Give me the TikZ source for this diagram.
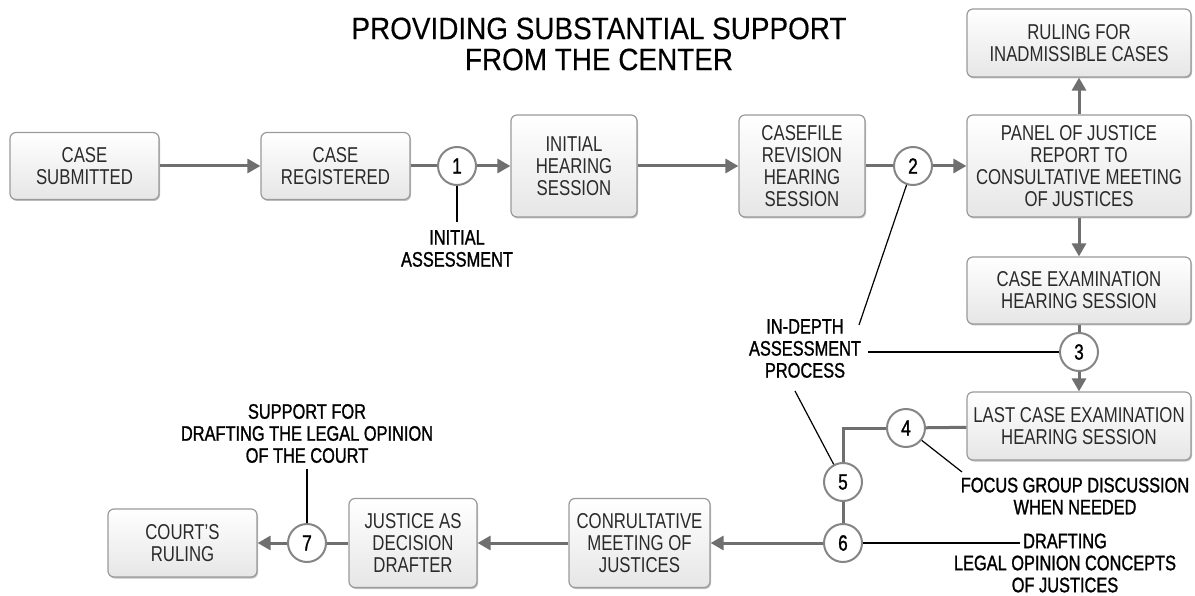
\documentclass[tikz,border=0pt]{standalone}
\usepackage{fontspec}
\setmainfont{Liberation Sans}[FakeStretch=0.78]
\newfontfamily\titlefont{Liberation Sans}[FakeStretch=0.9,FakeBold=0.3]
\newfontfamily\notefont{Liberation Sans}[FakeStretch=0.78,FakeBold=1.2]
\usetikzlibrary{arrows.meta,shadows}

\definecolor{boxline}{HTML}{9A9A9A}
\definecolor{boxtext}{HTML}{2A2A2A}
\definecolor{boxfill}{HTML}{E6E6E6}
\definecolor{flowgray}{HTML}{6F6F6F}
\definecolor{ringline}{HTML}{858585}

\begin{document}
\begin{tikzpicture}[x=1pt,y=-1pt,
  stepbox/.style={draw=boxline, line width=1.2pt, rounded corners=6pt,
    top color=white, bottom color=boxfill, text=boxtext, align=center,
    font=\fontsize{21.5}{22}\selectfont, inner sep=0pt,
    drop shadow={shadow xshift=1pt, shadow yshift=-1.5pt, opacity=0.25, fill=black}},
  ring/.style={circle, draw=ringline, line width=2pt, fill=white,
    minimum size=38pt, inner sep=0pt, text=black,
    font=\notefont\fontsize{22}{22}\selectfont},
  note/.style={align=center, inner sep=0pt, text=black,
    font=\notefont\fontsize{21}{22}\selectfont},
  flow/.style={draw=flowgray, line width=3pt},
  flowarrow/.style={flow, -{Triangle[length=13pt,width=14pt]}},
  callout/.style={draw=black, line width=1.2pt}]

\useasboundingbox (0,0) rectangle (1195,596);

% title
\node[align=center, inner sep=0pt, font=\titlefont\fontsize{31}{31}\selectfont]
  (title) at (599,44) {PROVIDING SUBSTANTIAL SUPPORT\\FROM THE CENTER};

% process boxes
\node[stepbox, minimum width=149pt, minimum height=67pt] (sub) at (84.5,166) {CASE\\SUBMITTED};
\node[stepbox, minimum width=149pt, minimum height=67pt] (reg) at (335.5,166) {CASE\\REGISTERED};
\node[stepbox, minimum width=126pt, minimum height=102pt] (ih) at (574,166) {INITIAL\\HEARING\\SESSION};
\node[stepbox, minimum width=126pt, minimum height=102pt] (cf) at (802,166) {CASEFILE\\REVISION\\HEARING\\SESSION};
\node[stepbox, minimum width=224pt, minimum height=102pt] (panel) at (1079,166) {PANEL OF JUSTICE\\REPORT TO\\CONSULTATIVE MEETING\\OF JUSTICES};
\node[stepbox, minimum width=224pt, minimum height=68pt] (rul) at (1079,43) {RULING FOR\\INADMISSIBLE CASES};
\node[stepbox, minimum width=224pt, minimum height=67pt] (ce) at (1079,290.5) {CASE EXAMINATION\\HEARING SESSION};
\node[stepbox, minimum width=224pt, minimum height=68pt] (lce) at (1079,426) {LAST CASE EXAMINATION\\HEARING SESSION};
\node[stepbox, minimum width=141pt, minimum height=89pt] (cmj) at (639.5,543) {CONRULTATIVE\\MEETING OF\\JUSTICES};
\node[stepbox, minimum width=128pt, minimum height=89pt] (jad) at (413,543) {JUSTICE AS\\DECISION\\DRAFTER};
\node[stepbox, minimum width=149pt, minimum height=68pt] (cr) at (182.5,543) {COURT’S\\RULING};

% numbered stages
\node[ring] (c1) at (457,166) {1};
\node[ring] (c2) at (913,166) {2};
\node[ring] (c3) at (1079,352) {3};
\node[ring] (c4) at (906,428) {4};
\node[ring] (c5) at (843,482) {5};
\node[ring] (c6) at (843,543) {6};
\node[ring] (c7) at (307,543) {7};

% flow
\draw[flowarrow] (sub) -- (reg);
\draw[flow] (reg) -- (c1);
\draw[flowarrow] (c1) -- (ih);
\draw[flowarrow] (ih) -- (cf);
\draw[flow] (cf) -- (c2);
\draw[flowarrow] (c2) -- (panel);
\draw[flowarrow] (panel) -- (rul);
\draw[flowarrow] (panel) -- (ce);
\draw[flow] (ce) -- (c3);
\draw[flowarrow] (c3) -- (lce);
\draw[flow] (lce) -- (c4);
\draw[flow] (c4) -| (c5);
\draw[flow] (c5) -- (c6);
\draw[flowarrow] (c6) -- (cmj);
\draw[flowarrow] (cmj) -- (jad);
\draw[flow] (jad) -- (c7);
\draw[flowarrow] (c7) -- (cr);

% annotations
\node[note] (n1) at (457,248.5) {INITIAL\\ASSESSMENT};
\node[note] (n2) at (805,348.5) {IN-DEPTH\\ASSESSMENT\\PROCESS};
\node[note] (n4) at (1075,496) {FOCUS GROUP DISCUSSION\\WHEN NEEDED};
\node[note] (n6) at (1065,563) {DRAFTING\\LEGAL OPINION CONCEPTS\\OF JUSTICES};
\node[note] (n7) at (307,433.5) {SUPPORT FOR\\DRAFTING THE LEGAL OPINION\\OF THE COURT};

\coordinate (t1) at (457,222);
\coordinate (t2a) at (859,325);
\coordinate (t2b) at (868,352);
\coordinate (t2c) at (795,391);
\coordinate (t4) at (962,472);
\coordinate (t6) at (1020,543);
\coordinate (t7) at (307,469);

\draw[callout] (c1) -- (t1);
\draw[callout] (c2) -- (t2a);
\draw[callout] (c3) -- (t2b);
\draw[callout] (t2c) -- (c5);
\draw[callout] (c4) -- (t4);
\draw[callout] (c6) -- (t6);
\draw[callout] (c7) -- (t7);
\end{tikzpicture}
\end{document}
